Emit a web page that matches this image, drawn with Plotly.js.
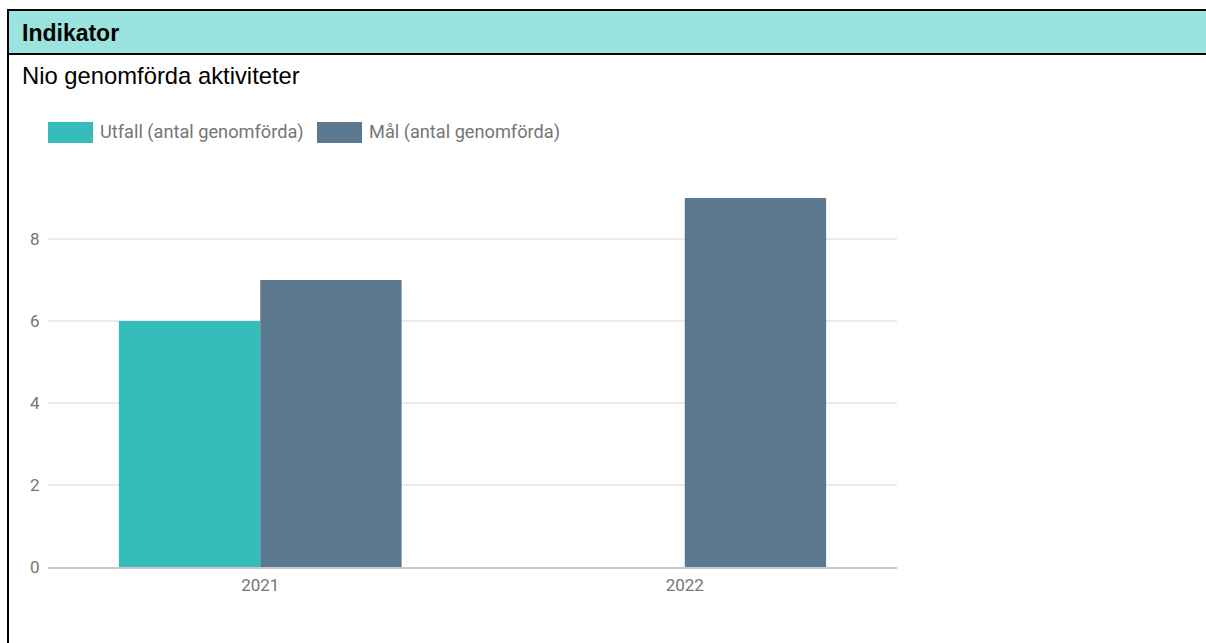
<!DOCTYPE html>
<html>
<head>
<meta charset="utf-8">
<script src="https://cdn.plot.ly/plotly-3.0.1.min.js"></script>
<style>
  html, body { margin: 0; padding: 0; width: 1206px; height: 643px; overflow: hidden; background: #fff; }
  #frame { position: absolute; left: 7px; top: 9px; width: 1199px; height: 634px; border-left: 2px solid #000; border-top: 2px solid #000; box-sizing: border-box; }
  #header { position: absolute; left: 9px; top: 11px; width: 1197px; height: 42px; background: #9BE3DF; border-bottom: 2px solid #000; box-sizing: content-box; }
  #header span { position: absolute; left: 13px; top: 9px; font-family: "Liberation Sans", Arial, sans-serif; font-weight: bold; font-size: 23px; line-height: 26px; color: #000; white-space: nowrap; }
  #sub { position: absolute; left: 22px; top: 62px; font-family: "Liberation Sans", Arial, sans-serif; font-size: 23.8px; line-height: 27px; color: #000; white-space: nowrap; }
  #chart { position: absolute; left: 0; top: 0; width: 1206px; height: 643px; }
</style>
</head>
<body>
<div id="frame"></div>
<div id="header"><span id="htxt"></span></div>
<div id="sub"></div>
<div id="chart"></div>
<script>
const headerText = "Indikator";
const subtitleText = "Nio genomförda aktiviteter";
const categories = ["2021", "2022"];
const seriesNames = ["Utfall (antal genomförda)", "Mål (antal genomförda)"];
const utfall = [6, 0];
const mal = [7, 9];
const colors = ["#37BCBC", "#5B788F"];
const yTicks = [0, 2, 4, 6, 8];

document.getElementById("htxt").textContent = headerText;
document.getElementById("sub").textContent = subtitleText;

const W = 1206, H = 643;
const L = 48, R = 897, T = 198, B = 567;
const pw = R - L, ph = B - T;
const px = x => (x - L) / pw;
const py = y => (B - y) / ph;

const traces = [
  { type: "bar", name: seriesNames[0], x: categories, y: utfall, marker: { color: colors[0] }, hoverinfo: "x+y+name" },
  { type: "bar", name: seriesNames[1], x: categories, y: mal, marker: { color: colors[1] }, hoverinfo: "x+y+name" }
];

const legendX = [48, 317];
const shapes = [];
const annotations = [];
seriesNames.forEach((n, i) => {
  shapes.push({ type: "rect", xref: "paper", yref: "paper",
    x0: px(legendX[i]), x1: px(legendX[i] + 45), y0: py(143), y1: py(122),
    fillcolor: colors[i], line: { width: 0 } });
  annotations.push({ xref: "paper", yref: "paper", x: px(legendX[i] + 50), y: py(132),
    xanchor: "left", yanchor: "middle", showarrow: false, text: n,
    font: { family: "Roboto, sans-serif", size: 18.2, color: "#757575" } });
});

const layout = {
  width: W, height: H,
  paper_bgcolor: "rgba(0,0,0,0)", plot_bgcolor: "rgba(0,0,0,0)",
  margin: { l: L, r: W - R, t: T, b: H - B, pad: 0 },
  barmode: "group", bargap: 0.334, bargroupgap: 0,
  showlegend: false,
  font: { family: "Roboto, sans-serif", size: 17, color: "#757575" },
  xaxis: { type: "category", showgrid: false, zeroline: false, showline: true, linecolor: "#C8C8C8", linewidth: 2,
    ticks: "outside", ticklen: 2, tickcolor: "rgba(0,0,0,0)", tickfont: { size: 17, color: "#757575" } },
  yaxis: { range: [0, 9], tickvals: yTicks, showgrid: true, gridcolor: "#EBEBEB", gridwidth: 2,
    zeroline: false, showline: false, ticks: "outside", ticklen: 4, tickcolor: "rgba(0,0,0,0)",
    tickfont: { size: 17, color: "#757575" } },
  shapes: shapes,
  annotations: annotations
};

Plotly.newPlot("chart", traces, layout, { displayModeBar: false, staticPlot: true });
</script>
</body>
</html>
